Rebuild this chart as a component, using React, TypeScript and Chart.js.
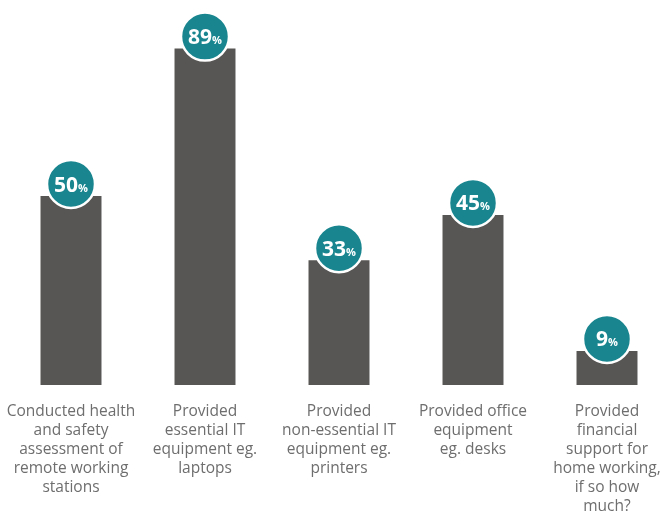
import React, { useEffect, useRef } from "react";
import { Chart, registerables } from "chart.js";

Chart.register(...registerables);

const categories: string[][] = [
  ["Conducted health", "and safety", "assessment of", "remote working", "stations"],
  ["Provided", "essential IT", "equipment eg.", "laptops"],
  ["Provided", "non-essential IT", "equipment eg.", "printers"],
  ["Provided office", "equipment", "eg. desks"],
  ["Provided", "financial", "support for", "home working,", "if so how", "much?"],
];
const values: number[] = [50, 89, 33, 45, 9];

const BAR_COLOR = "#585654";
const TEAL = "#19868f";

const badgePlugin = {
  id: "badges",
  afterDatasetsDraw(chart: any) {
    const ctx = chart.ctx;
    const meta = chart.getDatasetMeta(0);
    meta.data.forEach((el: any, i: number) => {
      const cx = el.x;
      const cy = el.y - 12;
      const r = 24;
      ctx.save();
      ctx.beginPath();
      ctx.arc(cx, cy, r, 0, Math.PI * 2);
      ctx.fillStyle = TEAL;
      ctx.fill();
      ctx.lineWidth = 2.5;
      ctx.strokeStyle = "#ffffff";
      ctx.stroke();
      const num = String(values[i]);
      ctx.fillStyle = "#ffffff";
      ctx.textBaseline = "alphabetic";
      ctx.font = "bold 21px 'Open Sans', sans-serif";
      const w1 = ctx.measureText(num).width;
      ctx.font = "bold 11px 'Open Sans', sans-serif";
      const w2 = ctx.measureText("%").width;
      const start = cx - (w1 + w2) / 2;
      ctx.font = "bold 21px 'Open Sans', sans-serif";
      ctx.textAlign = "left";
      ctx.fillText(num, start, cy + 7.5);
      ctx.font = "bold 11px 'Open Sans', sans-serif";
      ctx.fillText("%", start + w1, cy + 7.5);
      ctx.restore();
    });
  },
};

export default function App() {
  const ref = useRef<HTMLCanvasElement | null>(null);
  useEffect(() => {
    if (!ref.current) return;
    const chart = new Chart(ref.current, {
      type: "bar",
      data: {
        labels: categories,
        datasets: [
          {
            data: values,
            backgroundColor: BAR_COLOR,
            borderWidth: 0,
            categoryPercentage: 1,
            barPercentage: 0.455,
          },
        ],
      },
      options: {
        animation: false,
        responsive: false,
        maintainAspectRatio: false,
        layout: { padding: { top: 7, bottom: 0, left: 0, right: 0 } },
        plugins: { legend: { display: false }, tooltip: { enabled: false } },
        scales: {
          y: { display: false, min: 0, max: 100 },
          x: {
            grid: { display: false, drawTicks: false },
            border: { display: false },
            afterFit(scale: any) {
              scale.paddingLeft = 0;
              scale.paddingRight = 0;
              scale.paddingTop = 0;
              scale.paddingBottom = 0;
              scale.height = 131;
            },
            ticks: {
              padding: 17,
              color: "#6e6e6e",
              autoSkip: false,
              maxRotation: 0,
              minRotation: 0,
              font: { family: "'Open Sans', sans-serif", size: 15.5, lineHeight: 19 / 15.5 },
            },
          },
        },
      },
      plugins: [badgePlugin],
    });
    return () => chart.destroy();
  }, []);
  return (
    <div
      style={{
        position: "fixed",
        left: 0,
        top: 0,
        width: 664,
        height: 515,
        overflow: "hidden",
        background: "#ffffff",
      }}
    >
      <canvas
        ref={ref}
        width={670}
        height={516}
        style={{ position: "absolute", left: 4, top: 0, width: 670, height: 516 }}
      />
    </div>
  );
}
